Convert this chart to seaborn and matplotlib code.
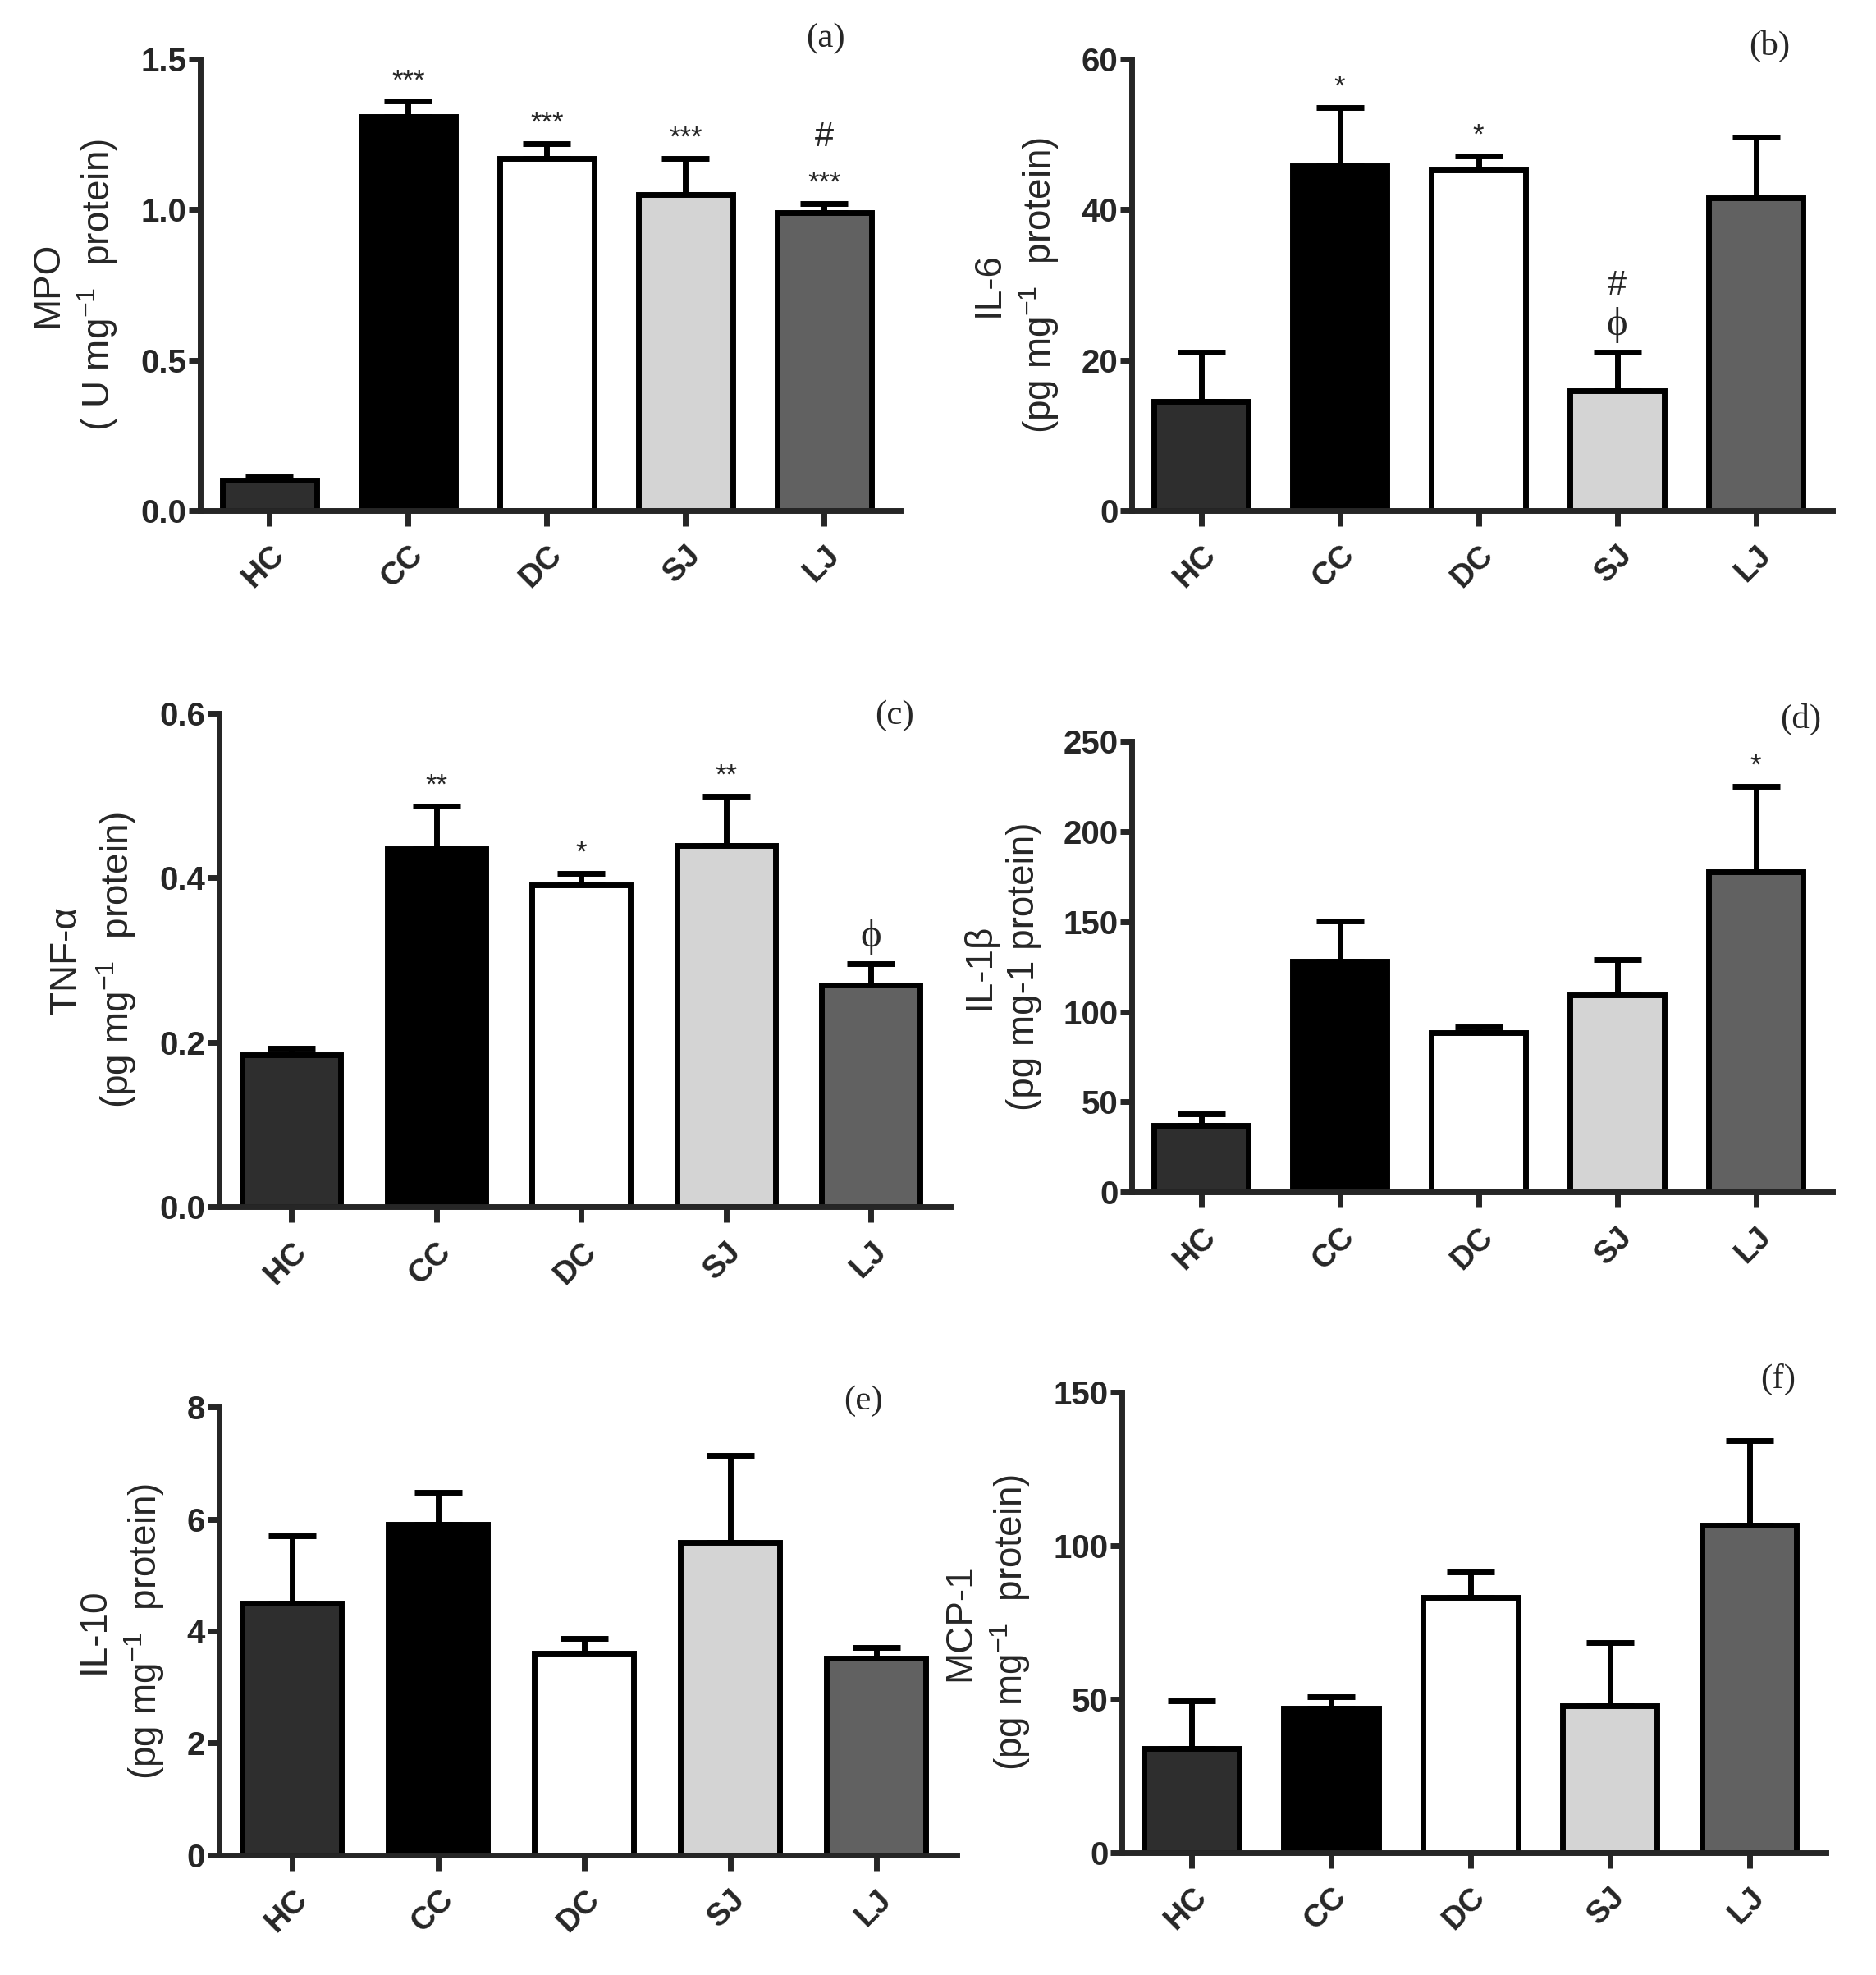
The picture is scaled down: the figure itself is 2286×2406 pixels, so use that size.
import matplotlib
matplotlib.use("Agg")
import matplotlib.pyplot as plt
import seaborn as sns
import numpy as np

# DATA
groups = ["HC", "CC", "DC", "SJ", "LJ"]
bar_colors = ["#2e2e2e", "#000000", "#ffffff", "#d4d4d4", "#616161"]

mpo = [0.10, 1.31, 1.17, 1.05, 0.99]
mpo_err = [0.01, 0.05, 0.05, 0.12, 0.03]
il6 = [14.5, 45.8, 45.3, 15.9, 41.6]
il6_err = [6.5, 7.8, 1.8, 5.1, 8.1]
tnf = [0.185, 0.435, 0.391, 0.439, 0.270]
tnf_err = [0.008, 0.052, 0.014, 0.060, 0.025]
il1b = [36.9, 128.0, 88.6, 109.5, 177.6]
il1b_err = [6.2, 22.4, 3.0, 19.4, 47.7]
il10 = [4.50, 5.91, 3.61, 5.59, 3.52]
il10_err = [1.20, 0.57, 0.26, 1.55, 0.18]
mcp1 = [34.0, 46.9, 83.1, 47.9, 106.6]
mcp1_err = [15.5, 3.7, 8.2, 20.6, 27.5]

sig_a = ["", "***", "***", "***", "***"]
top_a = ["", "", "", "", "#"]
sig_b = ["", "*", "*", "\u03d5", ""]
top_b = ["", "", "", "#", ""]
sig_c = ["", "**", "*", "**", "\u03d5"]
sig_d = ["", "", "", "", "*"]

sns.set_style("ticks")
plt.rcParams["font.family"] = ["Liberation Sans", "DejaVu Sans"]
plt.rcParams["mathtext.default"] = "regular"

serif = ["Liberation Serif", "DejaVu Serif"]

fig = plt.figure(figsize=(22.86, 24.06), dpi=100)

panels = [
    # values, errors, ylabel, ymax, step, fmt, tag, tag pos, rect, sig, top
    (mpo, mpo_err, "MPO\n( U mg$^{-1}$  protein)", 1.5, 0.5, "%.1f", "(a)", (0.893, 1.047),
     [0.1067, 0.7416, 0.3733, 0.2284], sig_a, top_a),
    (il6, il6_err, "IL-6\n(pg mg$^{-1}$  protein)", 60, 20, "%d", "(b)", (0.911, 1.028),
     [0.6033, 0.7416, 0.3733, 0.2284], sig_b, top_b),
    (tnf, tnf_err, "TNF-\u03b1\n(pg mg$^{-1}$  protein)", 0.6, 0.2, "%.1f", "(c)", (0.923, 0.995),
     [0.1167, 0.3889, 0.3900, 0.2501], sig_c, None),
    (il1b, il1b_err, "IL-1\u03b2\n(pg mg-1 protein)", 250, 50, "%d", "(d)", (0.955, 1.05),
     [0.6033, 0.3965, 0.3733, 0.2280], sig_d, None),
    (il10, il10_err, "IL-10\n(pg mg$^{-1}$  protein)", 8, 2, "%d", "(e)", (0.873, 1.014),
     [0.1167, 0.0608, 0.3933, 0.2267], None, None),
    (mcp1, mcp1_err, "MCP-1\n(pg mg$^{-1}$  protein)", 150, 50, "%d", "(f)", (0.932, 1.027),
     [0.5980, 0.0621, 0.3753, 0.2330], None, None),
]

lw = 5
for vals, errs, ylab, ymax, step, fmt, tag, tagpos, rect, sig, top in panels:
    ax = fig.add_axes(rect)
    sns.barplot(x=groups, y=vals, hue=groups, palette=bar_colors, legend=False,
                edgecolor="black", linewidth=lw, width=0.68, errorbar=None,
                saturation=1, ax=ax, zorder=2)
    ax.errorbar(np.arange(len(groups)), vals, yerr=[np.zeros(len(vals)), errs],
                fmt="none", ecolor="black", elinewidth=lw, capsize=21, capthick=lw,
                zorder=1)
    ax.set_xlim(-0.5, 4.55)
    ax.set_ylim(0, ymax)
    yt = np.arange(0, ymax + step / 2, step)
    ax.set_yticks(yt)
    ax.set_yticklabels([fmt % t for t in yt], fontweight="bold", fontsize=29)
    sns.despine(ax=ax)
    for s in ["left", "bottom"]:
        ax.spines[s].set_linewidth(lw)
    ax.tick_params(axis="y", direction="out", length=10, width=lw, pad=2)
    ax.tick_params(axis="x", direction="out", length=14, width=lw, pad=12)
    ax.set_xticks(range(len(groups)))
    ax.set_xticklabels(groups, rotation=45, ha="right", rotation_mode="anchor",
                       fontweight="bold", fontsize=28)
    ax.set_xlabel("")
    ax.set_ylabel(ylab, fontsize=33, linespacing=1.3, labelpad=18)
    ax.text(tagpos[0], tagpos[1], tag, transform=ax.transAxes, ha="center", va="center",
            fontsize=31, family=serif)
    if sig is not None:
        for i, s in enumerate(sig):
            if not s:
                continue
            cap = vals[i] + errs[i]
            if s == "\u03d5":
                ax.annotate(s, xy=(i, cap), xytext=(0, 8), textcoords="offset points",
                            ha="center", va="bottom", fontsize=35, family=serif)
            else:
                ax.annotate(s, xy=(i, cap), xytext=(0, 6), textcoords="offset points",
                            ha="center", va="bottom", fontsize=25)
    if top is not None:
        for i, s in enumerate(top):
            if not s:
                continue
            cap = vals[i] + errs[i]
            ax.annotate(s, xy=(i, cap), xytext=(0, 44), textcoords="offset points",
                        ha="center", va="bottom", fontsize=30)

fig.savefig("out.png", dpi=100, facecolor="white")
